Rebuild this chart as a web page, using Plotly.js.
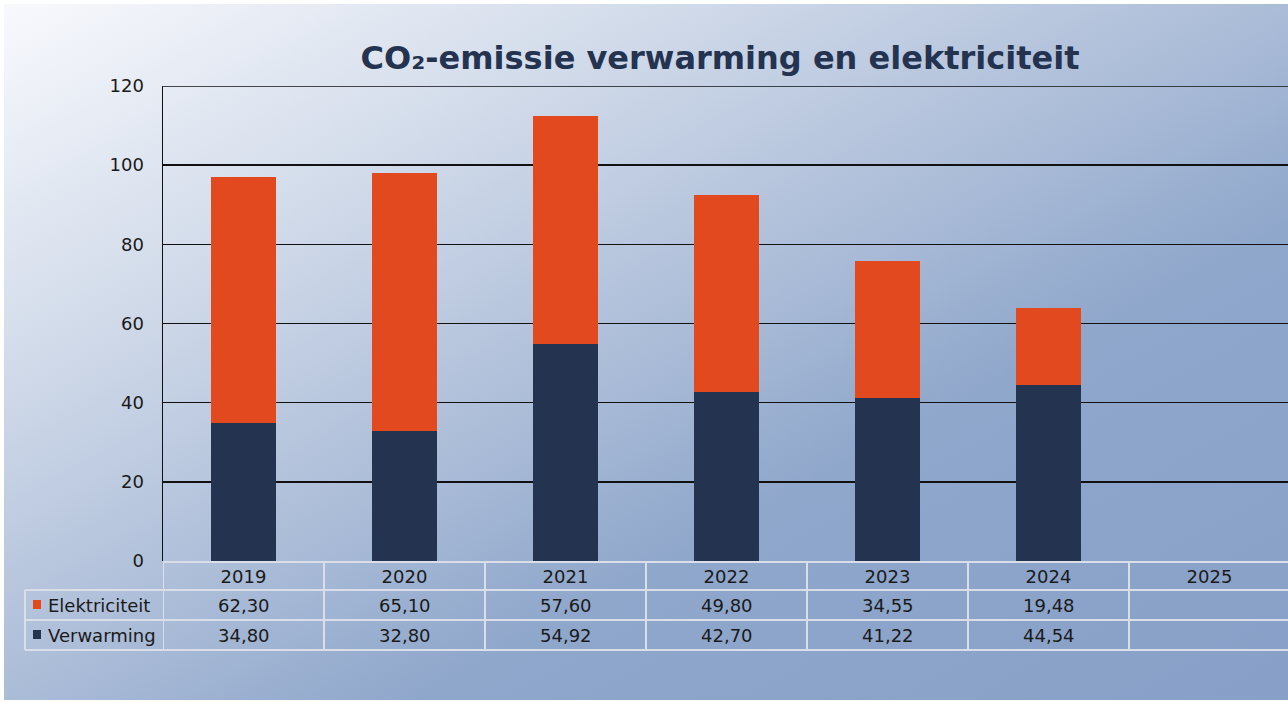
<!DOCTYPE html>
<html><head><meta charset="utf-8">
<script src="https://cdn.plot.ly/plotly-3.0.1.min.js"></script>
<style>
html,body{margin:0;padding:0;background:#fff;overflow:hidden;width:1288px;height:702px;}
#bg{position:absolute;left:4px;top:4px;width:1284px;height:696px;overflow:hidden;
background:linear-gradient(to bottom right,#f8f9fd 0%,#d8e0ed 22%,#b0c0da 47%,#8fa7cb 66%,#88a0c7 100%);}
#chart{position:absolute;left:0;top:0;width:1286px;height:696px;}
</style></head><body><div id="bg"><div id="chart"></div></div>
<script>
const years = ['2019','2020','2021','2022','2023','2024','2025'];
const elektriciteit = [62.30, 65.10, 57.60, 49.80, 34.55, 19.48, null];
const verwarming = [34.80, 32.80, 54.92, 42.70, 41.22, 44.54, null];
const seriesNames = ['Elektriciteit', 'Verwarming'];
const yTicks = [0, 20, 40, 60, 80, 100, 120];
const titleText = 'CO₂-emissie verwarming en elektriciteit';

const colElek = '#e3491f';
const colVerw = '#24334f';
const lineCol = '#d9dee8';
const textCol = '#1a1a1a';
const FONT = 'DejaVu Sans, Verdana, sans-serif';

const W = 1286, H = 696, L = 159, R = 0, T = 82, B = 139;
const PW = W - L - R, PH = H - T - B;
const px = p => (p - 4 - L) / PW;           // page x -> paper x
const py = p => (T + PH - (p - 4)) / PH;    // page y -> paper y

const fmt = v => (v === null || v === undefined) ? '' : v.toFixed(2).replace('.', ',');

const traces = [
  {type:'bar', name:seriesNames[1], x:years, y:verwarming, marker:{color:colVerw, line:{width:0}}, hoverinfo:'skip'},
  {type:'bar', name:seriesNames[0], x:years, y:elektriciteit, marker:{color:colElek, line:{width:0}}, hoverinfo:'skip'}
];

const shapes = [];
// top frame line at the axis maximum
shapes.push({type:'line', xref:'paper', yref:'y', x0:0, x1:1, y0:yTicks[yTicks.length-1], y1:yTicks[yTicks.length-1], line:{color:'#111', width:1.5}, layer:'above'});
const hl = (y, x0) => shapes.push({type:'line', xref:'paper', yref:'paper', x0:px(x0), x1:1.01, y0:py(y), y1:py(y), line:{color:lineCol, width:2}});
hl(562, 163); hl(590, 25); hl(620, 25); hl(650, 25);
shapes.push({type:'line', xref:'paper', yref:'paper', x0:px(25), x1:px(25), y0:py(590), y1:py(650), line:{color:lineCol, width:2}});
for (let k = 0; k <= years.length; k++) {
  shapes.push({type:'line', xref:'x', yref:'paper', x0:k-0.5, x1:k-0.5, y0:py(562), y1:py(650), line:{color:lineCol, width:2}});
}
// legend keys
shapes.push({type:'rect', xref:'paper', yref:'paper', x0:px(33), x1:px(41), y0:py(600), y1:py(609), fillcolor:colElek, line:{width:0}});
shapes.push({type:'rect', xref:'paper', yref:'paper', x0:px(33), x1:px(41), y0:py(630), y1:py(639), fillcolor:colVerw, line:{width:0}});

const annotations = [];
const rowY = [605, 635];
const rowData = [elektriciteit, verwarming];
seriesNames.forEach((n, r) => {
  annotations.push({xref:'paper', yref:'paper', x:px(46), y:py(rowY[r]), xanchor:'left', yanchor:'middle', text:n, showarrow:false, font:{family:FONT, size:18, color:textCol}});
  years.forEach((yr, i) => {
    const t = fmt(rowData[r][i]);
    if (t) annotations.push({xref:'x', yref:'paper', x:i, y:py(rowY[r]), xanchor:'center', yanchor:'middle', text:t, showarrow:false, font:{family:FONT, size:18, color:textCol}});
  });
});

const layout = {
  width:W, height:H,
  margin:{l:L, r:R, t:T, b:B, pad:0},
  paper_bgcolor:'rgba(0,0,0,0)', plot_bgcolor:'rgba(0,0,0,0)',
  barmode:'stack', bargap:0.6,
  showlegend:false,
  title:{text:'<b>'+titleText+'</b>', font:{family:FONT, size:32, color:'#243350'}, xref:'container', yref:'container', x:(720-4)/W, xanchor:'center', y:1-(58-4)/H, yanchor:'middle'},
  xaxis:{type:'category', range:[-0.5, years.length-0.5], showgrid:false, zeroline:false, showline:false, ticks:'', ticklabelstandoff:3, tickfont:{family:FONT, size:18, color:textCol}, fixedrange:true},
  yaxis:{range:[0,120], tickvals:yTicks, ticktext:yTicks.map(String), showgrid:true, gridcolor:'#111', gridwidth:1.5, zeroline:false, showline:true, linecolor:'#111', linewidth:1.5, ticks:'', ticklabelstandoff:14, tickfont:{family:FONT, size:18, color:textCol}, fixedrange:true},
  shapes:shapes, annotations:annotations
};

Plotly.newPlot('chart', traces, layout, {displayModeBar:false, staticPlot:true});
</script></body></html>
